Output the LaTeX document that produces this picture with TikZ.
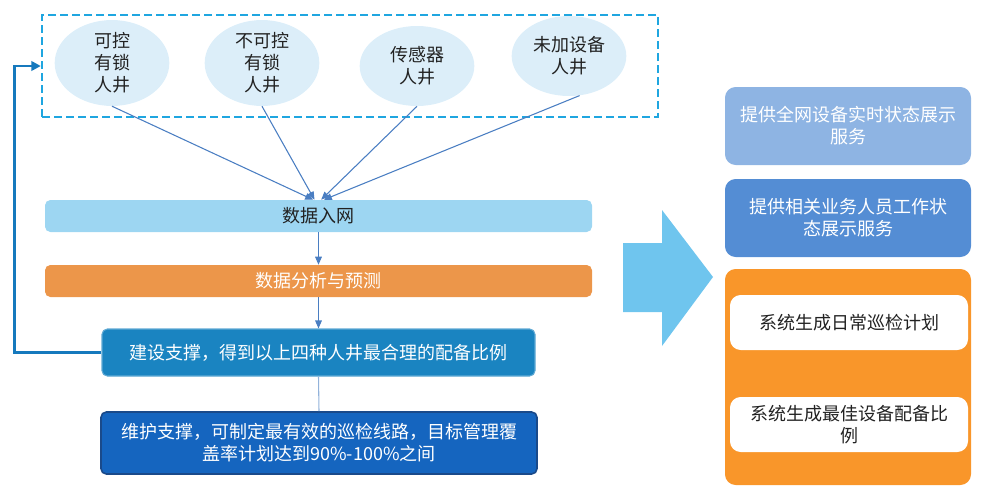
\documentclass[tikz,border=0pt]{standalone}
\usepackage{fontspec}
\setmainfont{Noto Sans CJK SC}
\usetikzlibrary{arrows.meta,shapes.geometric}
\definecolor{ellfill}{HTML}{DCEEF9}
\definecolor{conn}{HTML}{4A7EC2}
\definecolor{dashc}{HTML}{1FA6E0}
\definecolor{boxone}{HTML}{9DD6F2}
\definecolor{boxtwo}{HTML}{EC964A}
\definecolor{boxthree}{HTML}{1A84C1}
\definecolor{boxfour}{HTML}{1565BF}
\definecolor{boxfourb}{HTML}{1A4A8A}
\definecolor{fbc}{HTML}{1679BD}
\definecolor{bigarr}{HTML}{6FC5EE}
\definecolor{rA}{HTML}{8EB4E3}
\definecolor{rB}{HTML}{548DD4}
\definecolor{rC}{HTML}{F9962A}
\definecolor{txt}{HTML}{222222}
\begin{document}
\begin{tikzpicture}[x=0.75pt,y=-0.75pt,
  every node/.style={font=\fontsize{13.5}{16.5}\selectfont, align=center, inner sep=0pt},
  ell/.style={ellipse, fill=ellfill, minimum width=86pt, minimum height=60pt, text=txt},
  bar/.style={rounded corners=4pt, text=white},
  conn/.style={draw=conn, line width=0.8pt, -{Triangle[length=6pt,width=5pt]}},
  dashedbox/.style={draw=dashc, line width=1.8pt, dash pattern=on 6pt off 3pt},
  fb/.style={draw=fbc, line width=2.2pt, -{Triangle[length=7pt,width=7pt]}},
  wbox/.style={fill=white, rounded corners=8pt, text=txt, minimum width=178.5pt, minimum height=41.25pt}
]
\useasboundingbox (0,0) rectangle (986,493);

% dashed group
\node[dashedbox, minimum width=462pt, minimum height=76.5pt] (grp) at (350,66) {};

% ellipses
\node[ell] (e1) at (112,63) {可控\\有锁\\人井};
\node[ell] (e2) at (262,63) {不可控\\有锁\\人井};
\node[ell] (e3) at (417,66) {传感器\\人井};
\node[ell] (e4) at (569,56) {未加设备\\人井};

% process bars
\node[bar, fill=boxone, text=txt, minimum width=410.25pt, minimum height=24pt] (d1) at (318.5,216) {数据入网};
\node[bar, fill=boxtwo, minimum width=410.25pt, minimum height=24pt] (d2) at (318.5,281) {数据分析与预测};
\node[bar, fill=boxthree, draw=boxthree!70!white, line width=0.8pt, minimum width=324.75pt, minimum height=35.25pt] (d3) at (318.5,352.5) {建设支撑，得到以上四种人井最合理的配备比例};
\node[bar, fill=boxfour, draw=boxfourb, line width=1.2pt, minimum width=327pt, minimum height=46.5pt] (d4) at (319,443) {维护支撑，可制定最有效的巡检线路，目标管理覆\\盖率计划达到90\%-100\%之间};

% connectors from ellipses
\draw[conn] (e1.south) -- ([xshift=-4]d1.north);
\draw[conn] (e2.south) -- ([xshift=-3]d1.north);
\draw[conn] (e3.south) -- ([xshift=2]d1.north);
\draw[conn] (e4.-75) -- ([xshift=4]d1.north);

% vertical flow
\draw[conn] (d1.south) -- (d2.north);
\draw[conn] (d2.south) -- (d3.north);
\draw[draw=conn!60!white, line width=0.8pt] (d3.south) -- (d4.north);

% feedback
\draw[fb] (d3.west) -- ++(-87,0) |- (grp.west);

% big arrow
\fill[bigarr] (623,243) -- (662,243) -- (662,210) -- (713,277) -- (662,346) -- (662,312) -- (623,312) -- cycle;

% right boxes
\node[bar, fill=rA, minimum width=184.5pt, minimum height=58.5pt, rounded corners=8pt] (rA) at (848,126) {提供全网设备实时状态展示\\服务};
\node[bar, fill=rB, minimum width=184.5pt, minimum height=58.5pt, rounded corners=8pt] (rB) at (848,218) {提供相关业务人员工作状\\态展示服务};
\node[bar, fill=rC, minimum width=184.5pt, minimum height=162pt, rounded corners=8pt] (rC) at (848,377) {};
\node[wbox] (w1) at (849,322.5) {系统生成日常巡检计划};
\node[wbox] (w2) at (849,424.5) {系统生成最佳设备配备比\\例};
\end{tikzpicture}
\end{document}
